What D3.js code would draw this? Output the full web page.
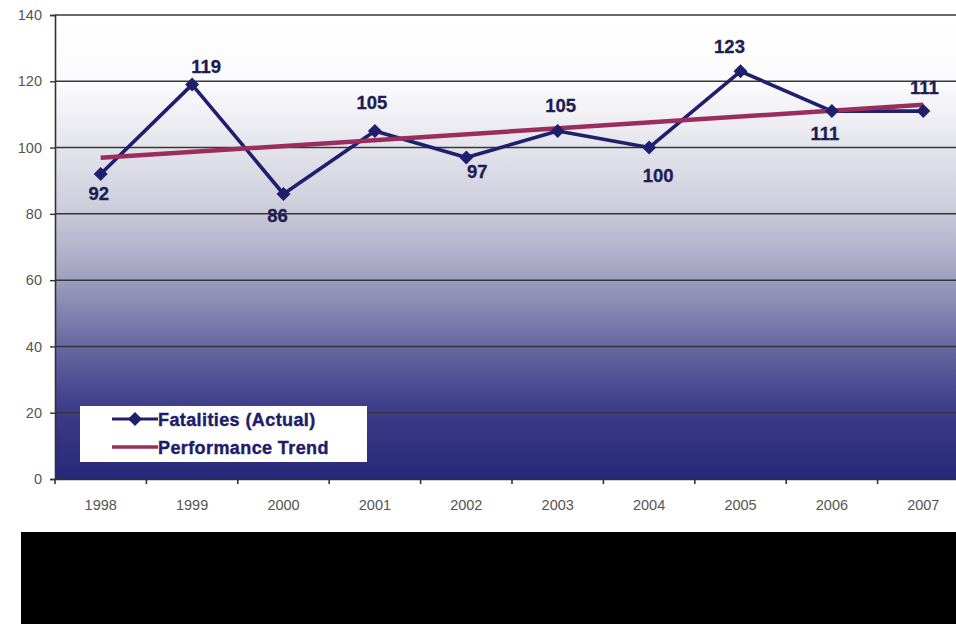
<!DOCTYPE html>
<html><head><meta charset="utf-8">
<script src="https://cdn.jsdelivr.net/npm/d3@7/dist/d3.min.js"></script>
<style>html,body{margin:0;padding:0;background:#fff;}svg{display:block;}</style>
</head><body>
<svg id="c" width="956" height="624"></svg>
<script>
const years = ["1998","1999","2000","2001","2002","2003","2004","2005","2006","2007"];
const fatalities = [92,119,86,105,97,105,100,123,111,111];
const trendEnds = [96.9, 112.9];
const yTicks = [0,20,40,60,80,100,120,140];
const seriesNames = ["Fatalities (Actual)","Performance Trend"];

// layout: label nudges (px) relative to each point
const labelDx = [-2, 14, -6, -3, 11, 3, 9, -11, -7, 1];
const labelDy = [26, -12, 28, -22, 20, -19, 34, -18, 29, -17];

const svg = d3.select("#c");
const L = 55, R = 969, T = 15, B = 479;
const x = d3.scaleBand().domain(years).range([L, R]);
const y = d3.scaleLinear().domain([0,140]).range([B, T]);
const cx = d => x(d) + x.bandwidth()/2;
const FONT = "Liberation Sans, Arial, sans-serif";

const defs = svg.append("defs");
const g = defs.append("linearGradient").attr("id","bg").attr("x1",0).attr("y1",0).attr("x2",0).attr("y2",1);
[[0,"#ffffff"],[0.15,"#fbfbfd"],[0.4,"#d0d0de"],[0.55,"#a6a6c3"],[0.7,"#6c6ca4"],[0.85,"#3c3c89"],[1,"#28287a"]]
  .forEach(s=>g.append("stop").attr("offset",s[0]).attr("stop-color",s[1]));
defs.append("clipPath").attr("id","clip").append("rect").attr("x",L).attr("y",T-2).attr("width",956-L).attr("height",B-T+10);

svg.append("rect").attr("x",L).attr("y",T).attr("width",R-L).attr("height",B-T).attr("fill","url(#bg)");

// gridlines
svg.append("g").selectAll("line").data(yTicks.filter(d=>d>0)).join("line")
  .attr("x1",L).attr("x2",956).attr("y1",d=>y(d)).attr("y2",d=>y(d))
  .attr("stroke","#363636").attr("stroke-width",1.5);

// y axis
const ya = svg.append("g").attr("transform",`translate(${L},0)`)
  .call(d3.axisLeft(y).tickValues(yTicks).tickSize(5).tickPadding(8));
ya.select(".domain").attr("stroke","#333").attr("stroke-width",1.6);
ya.selectAll(".tick line").attr("stroke","#333").attr("stroke-width",1.4);
ya.selectAll("text").attr("font-family",FONT).attr("font-size",14.5).attr("fill","#555");

// x axis
const xa = svg.append("g").attr("transform",`translate(0,${B})`)
  .call(d3.axisBottom(x).tickSize(0).tickPadding(21));
xa.select(".domain").attr("stroke","#333").attr("stroke-width",1.6);
xa.selectAll("text").attr("font-family",FONT).attr("font-size",14.5).attr("fill","#555");
const bounds = years.map(d=>x(d)).concat([R]);
svg.append("g").selectAll("line").data(bounds).join("line")
  .attr("x1",d=>d).attr("x2",d=>d).attr("y1",B).attr("y2",B+5)
  .attr("stroke","#333").attr("stroke-width",1.6);

const plot = svg.append("g").attr("clip-path","url(#clip)");
// series
plot.append("path").datum(fatalities)
  .attr("d", d3.line().x((d,i)=>cx(years[i])).y(d=>y(d)))
  .attr("fill","none").attr("stroke","#1f1f6e").attr("stroke-width",3.6).attr("stroke-linejoin","round");
// trend
plot.append("path").datum(trendEnds)
  .attr("d", d3.line().x((d,i)=>cx(years[i*(years.length-1)])).y(d=>y(d)))
  .attr("fill","none").attr("stroke","#9a2d5c").attr("stroke-width",4.5);
// markers
const diamond = "M0,-7L7,0L0,7L-7,0Z";
plot.append("g").selectAll("path").data(fatalities).join("path")
  .attr("d",diamond).attr("transform",(d,i)=>`translate(${cx(years[i])},${y(d)})`)
  .attr("fill","#1f1f6e");
// labels
svg.append("g").selectAll("text").data(fatalities).join("text")
  .attr("x",(d,i)=>cx(years[i])+labelDx[i])
  .attr("y",(d,i)=>y(d)+labelDy[i])
  .attr("text-anchor","middle")
  .attr("font-family",FONT).attr("font-weight","bold")
  .attr("font-size",18.5).attr("fill","#1d1d52")
  .attr("stroke","#1d1d52").attr("stroke-width",0.3)
  .text(d=>d);

// legend
const lg = svg.append("g");
lg.append("rect").attr("x",80).attr("y",406).attr("width",287).attr("height",56).attr("fill","#fff");
lg.append("line").attr("x1",112).attr("x2",158).attr("y1",419).attr("y2",419).attr("stroke","#1f1f6e").attr("stroke-width",3);
lg.append("path").attr("d",diamond).attr("transform","translate(135,419)").attr("fill","#1f1f6e");
lg.append("line").attr("x1",112).attr("x2",158).attr("y1",447).attr("y2",447).attr("stroke","#9a2d5c").attr("stroke-width",3.5);
lg.selectAll("text").data(seriesNames).join("text")
  .attr("x",158).attr("y",(d,i)=>426+i*28)
  .attr("font-family",FONT).attr("font-weight","bold")
  .attr("font-size",18).attr("letter-spacing",0.4).attr("fill","#1d1d6a")
  .attr("stroke","#1d1d6a").attr("stroke-width",0.4).text(d=>d);

// black box
svg.append("rect").attr("x",21).attr("y",532).attr("width",935).attr("height",92).attr("fill","#000");
</script>
</body></html>
